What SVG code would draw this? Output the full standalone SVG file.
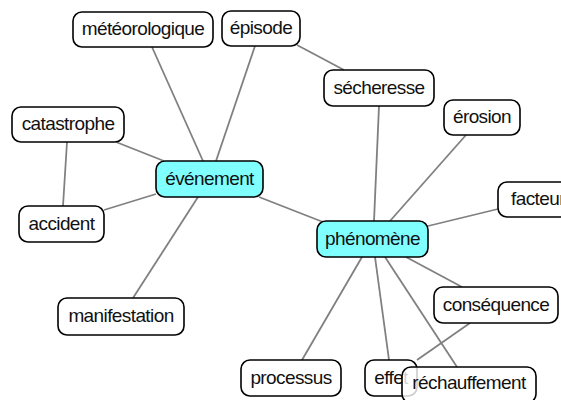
<svg xmlns="http://www.w3.org/2000/svg" width="561" height="400" viewBox="0 0 561 400">
  <style>
    .edge { stroke: #808080; stroke-width: 1.8; fill: none; }
    .box { fill: #ffffff; fill-opacity: 0.8; stroke: #000000; stroke-width: 1.6; }
    .hub { fill: #80ffff; fill-opacity: 1; }
    text { font-family: "Liberation Sans", Arial, sans-serif; font-size: 19px; letter-spacing: -0.6px; fill: #111111; text-anchor: middle; }
  </style>
  <rect width="561" height="400" fill="#ffffff"/>

  <!-- connectors, clipped at the box borders -->
  <g id="edges">
    <line class="edge" x1="152" y1="47" x2="203" y2="161"/>
    <line class="edge" x1="255" y1="46" x2="216" y2="161"/>
    <line class="edge" x1="297" y1="45" x2="344" y2="70"/>
    <line class="edge" x1="116" y1="142" x2="164" y2="161"/>
    <line class="edge" x1="67" y1="142" x2="63" y2="206"/>
    <line class="edge" x1="104" y1="210" x2="156" y2="194"/>
    <line class="edge" x1="133" y1="298" x2="198" y2="197"/>
    <line class="edge" x1="259" y1="197" x2="323" y2="222"/>
    <line class="edge" x1="379" y1="106" x2="374" y2="221"/>
    <line class="edge" x1="466" y1="135" x2="390" y2="221"/>
    <line class="edge" x1="498" y1="209" x2="428" y2="226"/>
    <line class="edge" x1="406" y1="257" x2="462" y2="287"/>
    <line class="edge" x1="362" y1="257" x2="302" y2="360"/>
    <line class="edge" x1="375" y1="257" x2="389" y2="360"/>
    <line class="edge" x1="385" y1="257" x2="457" y2="367"/>
    <line class="edge" x1="470" y1="323" x2="417" y2="360"/>
  </g>

  <g id="meteorologique">
    <rect class="box" x="73" y="12" width="140" height="35" rx="9"/>
    <text x="143" y="35">météorologique</text>
  </g>
  <g id="episode">
    <rect class="box" x="222" y="11" width="78" height="35" rx="9"/>
    <text x="261" y="34">épisode</text>
  </g>
  <g id="catastrophe">
    <rect class="box" x="12" y="107" width="112" height="35" rx="9"/>
    <text x="68" y="130">catastrophe</text>
  </g>
  <g id="evenement">
    <rect class="box hub" x="156" y="161" width="107" height="36" rx="9"/>
    <text x="209.5" y="184.5">événement</text>
  </g>
  <g id="accident">
    <rect class="box" x="19" y="206" width="85" height="36" rx="9"/>
    <text x="61.5" y="229.5">accident</text>
  </g>
  <g id="manifestation">
    <rect class="box" x="58" y="298" width="126" height="37" rx="9"/>
    <text x="121" y="322">manifestation</text>
  </g>
  <g id="secheresse">
    <rect class="box" x="324" y="70" width="110" height="36" rx="9"/>
    <text x="379" y="93.5">sécheresse</text>
  </g>
  <g id="erosion">
    <rect class="box" x="444" y="100" width="76" height="35" rx="9"/>
    <text x="482" y="123">érosion</text>
  </g>
  <g id="facteur">
    <rect class="box" x="498" y="182" width="80" height="35" rx="9"/>
    <text x="538" y="205">facteur</text>
  </g>
  <g id="phenomene">
    <rect class="box hub" x="317" y="221" width="111" height="36" rx="9"/>
    <text x="372.5" y="244.5">phénomène</text>
  </g>
  <g id="consequence">
    <rect class="box" x="434" y="287" width="124" height="36" rx="9"/>
    <text x="496" y="310.5">conséquence</text>
  </g>
  <g id="processus">
    <rect class="box" x="241" y="360" width="100" height="36" rx="9"/>
    <text x="291" y="383.5">processus</text>
  </g>
  <g id="effet">
    <rect class="box" x="365" y="360" width="52" height="36" rx="9"/>
    <text x="391" y="383.5">effet</text>
  </g>
  <g id="rechauffement">
    <rect class="box" x="402" y="367" width="134" height="36" rx="9"/>
    <text x="469" y="389">réchauffement</text>
  </g>
</svg>
